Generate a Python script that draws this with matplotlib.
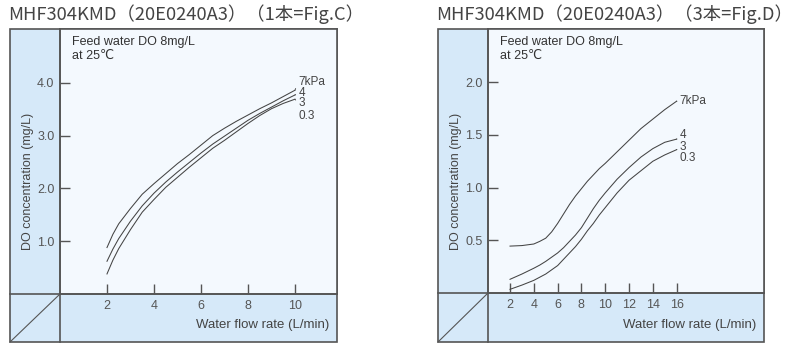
import numpy as np
import matplotlib
matplotlib.use('Agg')
import matplotlib.pyplot as plt
from matplotlib.patches import Rectangle
from matplotlib.lines import Line2D

plt.rcParams['font.family'] = ['Liberation Sans', 'DejaVu Sans']

# ---- data ----
titles = ['MHF304KMD（20E0240A3）（1本=Fig.C）', 'MHF304KMD（20E0240A3）（3本=Fig.D）']
note = 'Feed water DO 8mg/L\nat 25℃'
xlabel = 'Water flow rate (L/min)'
ylabel = 'DO concentration (mg/L)'
pressure_labels = ['7kPa', '4', '3', '0.3']

# Fig.C (1 module)
flow_c = [2, 2.25, 2.5, 3, 3.5, 4, 4.5, 5, 5.5, 6, 6.5, 7, 7.5, 8, 8.5, 9, 9.5, 10]
do_c_7 = [0.88, 1.13, 1.33, 1.62, 1.89, 2.09, 2.28, 2.47, 2.64, 2.82, 3.00, 3.14, 3.27, 3.39, 3.51, 3.62, 3.74, 3.86]
do_c_4 = [0.62, 0.85, 1.05, 1.38, 1.67, 1.91, 2.12, 2.31, 2.49, 2.67, 2.84, 2.99, 3.14, 3.29, 3.42, 3.54, 3.66, 3.77]
do_c_3 = [0.38, 0.64, 0.86, 1.22, 1.55, 1.79, 2.02, 2.21, 2.40, 2.58, 2.76, 2.91, 3.07, 3.23, 3.38, 3.51, 3.61, 3.69]
do_c_03 = [0.38, 0.64, 0.86, 1.22, 1.55, 1.79, 2.02, 2.21, 2.40, 2.58, 2.76, 2.91, 3.07, 3.23, 3.38, 3.51, 3.61, 3.69]
xticks_c = [2, 4, 6, 8, 10]
yticks_c = [1.0, 2.0, 3.0, 4.0]

# Fig.D (3 modules)
flow_d = [2, 3, 4, 4.5, 5, 5.5, 6, 6.5, 7, 7.5, 8, 8.5, 9, 9.5, 10, 11, 12, 13, 14, 15, 16]
do_d_7 = [0.445, 0.45, 0.465, 0.49, 0.52, 0.58, 0.66, 0.75, 0.84, 0.92, 0.99, 1.06, 1.12, 1.18, 1.23, 1.34, 1.45, 1.56, 1.65, 1.74, 1.82]
do_d_4 = [0.13, 0.18, 0.235, 0.265, 0.30, 0.34, 0.38, 0.43, 0.49, 0.55, 0.62, 0.71, 0.80, 0.88, 0.95, 1.08, 1.19, 1.29, 1.37, 1.43, 1.46]
do_d_3 = [0.035, 0.075, 0.12, 0.15, 0.18, 0.22, 0.26, 0.32, 0.38, 0.44, 0.51, 0.59, 0.66, 0.74, 0.81, 0.95, 1.07, 1.16, 1.25, 1.31, 1.36]
do_d_03 = [0.035, 0.075, 0.12, 0.15, 0.18, 0.22, 0.26, 0.32, 0.38, 0.44, 0.51, 0.59, 0.66, 0.74, 0.81, 0.95, 1.07, 1.16, 1.25, 1.31, 1.36]
xticks_d = [2, 4, 6, 8, 10, 12, 14, 16]
yticks_d = [0.5, 1.0, 1.5, 2.0]

W, H = 795, 356
STRIP = '#d6e9f9'
PLOTBG = '#f4f9fe'
EDGE = '#555555'
INK = '#444444'

fig = plt.figure(figsize=(W / 100, H / 100), dpi=100)


def fx(x):
    return x / W


def fy(y):
    return 1 - y / H


def panel(box, split, xlim, ylim, title, flows, series, xticks, yticks,
          label_pos, title_x):
    x0, y0, x1, y1 = box
    sx, sy = split
    fig.patches.append(Rectangle((fx(x0), fy(y1)), fx(x1 - x0), (y1 - y0) / H,
                                 transform=fig.transFigure, facecolor=STRIP,
                                 edgecolor=EDGE, lw=1.2, zorder=-5))
    ax = fig.add_axes([fx(sx), fy(sy), fx(x1 - sx), (sy - y0) / H])
    ax.set_zorder(1)
    ax.set_facecolor(PLOTBG)
    for s in ax.spines.values():
        s.set_color(EDGE)
        s.set_linewidth(1.2)
    ax.set_xlim(*xlim)
    ax.set_ylim(*ylim)
    ax.set_xticks(xticks)
    ax.set_xticklabels([str(t) for t in xticks])
    ax.set_yticks(yticks)
    ax.set_yticklabels(['%.1f' % t for t in yticks])
    ax.tick_params(direction='in', length=7, width=1, color=EDGE,
                   labelcolor='#555555', labelsize=9, pad=4)
    for i, (ys, lab, lp) in enumerate(zip(series, pressure_labels, label_pos)):
        if i > 0 and ys == series[i - 1]:
            # same curve as the previous one: label only, no second line
            ax.text(lp[0], lp[1], lab, fontsize=8.5, color=INK,
                    va='center', ha='left')
            continue
        ax.plot(flows, ys, color=INK, lw=0.75, solid_joinstyle='round')
        ax.annotate(lab, xy=(flows[-1], ys[-1]), xytext=lp, textcoords='data',
                    fontsize=8.5, color=INK, va='center', ha='left',
                    arrowprops=dict(arrowstyle='-', color=INK, lw=0.6,
                                    shrinkA=0, shrinkB=0, relpos=(0, 0.5)))
    # dividers
    fig.add_artist(Line2D([fx(x0), fx(x1)], [fy(sy), fy(sy)], color=EDGE, lw=1.2, zorder=3))
    fig.add_artist(Line2D([fx(sx), fx(sx)], [fy(y0), fy(y1)], color=EDGE, lw=1.2, zorder=3))
    fig.add_artist(Line2D([fx(x0), fx(sx)], [fy(y1), fy(sy)], color=EDGE, lw=0.8, zorder=3))
    # texts
    fig.text(fx(title_x), fy(14), title, fontsize=13.2, color='#444444',
             family=['Noto Sans CJK JP', 'DejaVu Sans'], va='center', ha='left')
    fig.text(fx(sx + 12), fy(36), note, fontsize=9, color='#333333',
             va='top', ha='left', linespacing=1.25, zorder=5)
    fig.text(fx((x0 + sx) / 2 - 7), fy((y0 + sy) / 2 + 20), ylabel, fontsize=9,
             color='#444444', rotation=90, va='center', ha='center', zorder=5)
    fig.text(fx(x1 - 8), fy(325), xlabel, fontsize=9.5, color='#444444',
             va='center', ha='right', zorder=5)
    return ax


panel((10, 29, 337, 342), (60, 294), (0, 11.79), (0, 5.02), titles[0],
      flow_c, [do_c_7, do_c_4, do_c_3, do_c_03], xticks_c, yticks_c,
      [(10.15, 4.02), (10.15, 3.81), (10.15, 3.61), (10.15, 3.38)], 8)

panel((438, 29, 764, 342), (488, 293), (0.15, 23.34), (0, 2.505), titles[1],
      flow_d, [do_d_7, do_d_4, do_d_3, do_d_03], xticks_d, yticks_d,
      [(16.25, 1.82), (16.25, 1.50), (16.25, 1.39), (16.25, 1.28)], 436)

fig.savefig('out.png', dpi=100, facecolor='white')
